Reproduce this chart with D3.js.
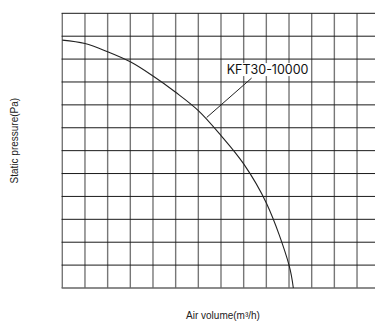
<!DOCTYPE html>
<html><head><meta charset="utf-8">
<script src="https://cdn.jsdelivr.net/npm/d3@7"></script>
<style>
html,body{margin:0;padding:0;background:#fff;}
svg{display:block;}
</style></head>
<body>
<svg id="c" width="375" height="324"></svg>
<script>
// Data
const xGrid = [0,1,2,3,4,5,6,7,8,9,10,11,12,13,14];
const yGrid = [0,1,2,3,4,5,6,7,8,9,10,11,12];
const curveX = [0, 1, 2, 3, 4, 5, 6, 7, 8, 9, 10, 10.19];
const curveY = [10.83, 10.68, 10.32, 9.88, 9.26, 8.55, 7.75, 6.66, 5.42, 3.71, 1.0, 0];
const seriesName = "KFT30-10000";
const labelAnchor = [8.35, 9.17];
const labelTarget = [6.37, 7.45];
const xTitle = "Air volume(m³/h)";
const yTitle = "Static pressure(Pa)";

(function(){
const svg = d3.select("#c");
const pL = 62.3, pR = 379.7, pT = 13.3, pB = 288;
const x = d3.scaleLinear().domain([0,14]).range([pL,pR]);
const y = d3.scaleLinear().domain([0,12]).range([pB,pT]);

const g = svg.append("g");
g.selectAll("line.v").data(xGrid).join("line")
  .attr("class","v")
  .attr("x1",d=>x(d)).attr("x2",d=>x(d))
  .attr("y1",y(0)).attr("y2",y(12))
  .attr("stroke","#777").attr("stroke-width",1.4);
g.selectAll("line.h").data(yGrid).join("line")
  .attr("class","h")
  .attr("x1",x(0)-0.7).attr("x2",x(14))
  .attr("y1",d=>y(d)).attr("y2",d=>y(d))
  .attr("stroke",d=> (d===0? "#666":"#1a1a1a")).attr("stroke-width",d=>d===0?1.6:1);

const pts = curveX.map((v,i)=>[v,curveY[i]]);
const line = d3.line().x(d=>x(d[0])).y(d=>y(d[1])).curve(d3.curveCatmullRom.alpha(0.5));
svg.append("path").datum(pts).attr("d",line)
  .attr("fill","none").attr("stroke","#222").attr("stroke-width",1.1);

svg.append("line")
  .attr("x1",x(labelAnchor[0])).attr("y1",y(labelAnchor[1]))
  .attr("x2",x(labelTarget[0])).attr("y2",y(labelTarget[1]))
  .attr("stroke","#222").attr("stroke-width",1);

const lbl = svg.append("text")
  .attr("x",x(labelAnchor[0])+16).attr("y",y(labelAnchor[1])-4)
  .attr("text-anchor","middle")
  .attr("font-family","Inter, 'Noto Sans', sans-serif")
  .attr("font-size",12.5).attr("fill","#111")
  .text(seriesName);
const bb = lbl.node().getBBox();
svg.insert("rect","text")
  .attr("x",bb.x-1).attr("y",bb.y+1).attr("width",bb.width+2).attr("height",bb.height-2)
  .attr("fill","#fff");

svg.append("text")
  .attr("x",(pL+pR)/2+2).attr("y",319)
  .attr("text-anchor","middle")
  .attr("font-family","'Liberation Sans', Arial, sans-serif")
  .attr("font-size",10).attr("fill","#222")
  .text(xTitle);
svg.append("text")
  .attr("transform",`translate(18,${(pT+pB)/2-10}) rotate(-90)`)
  .attr("text-anchor","middle")
  .attr("font-family","'Liberation Sans', Arial, sans-serif")
  .attr("font-size",10).attr("fill","#222")
  .text(yTitle);
})();
</script>
</body></html>
